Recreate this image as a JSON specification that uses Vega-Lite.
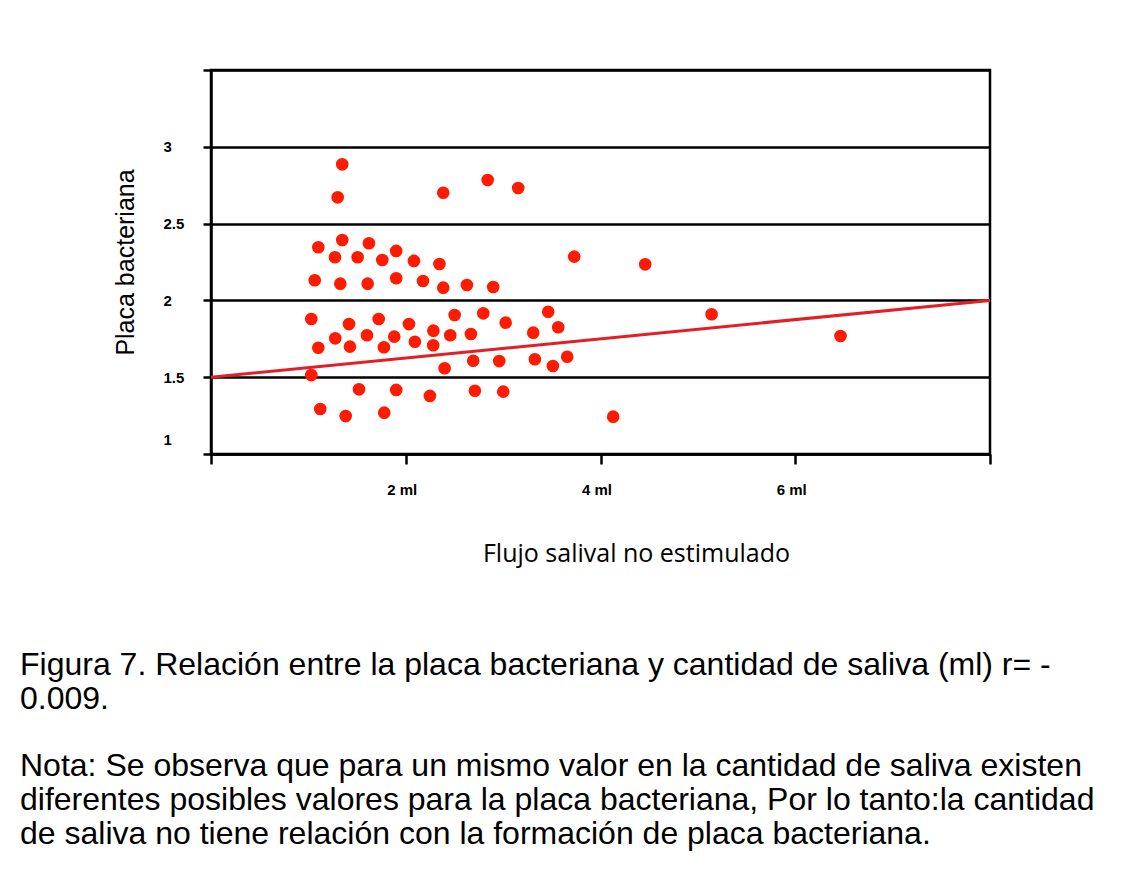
{
  "$schema": "https://vega.github.io/schema/vega-lite/v6.json",
  "width": 779,
  "height": 384,
  "autosize": {"type": "none"},
  "padding": {"left": 211, "top": 70, "right": 149, "bottom": 428},
  "background": "white",
  "config": {
    "view": {"stroke": "black", "strokeWidth": 2.5},
    "axis": {"domainColor": "black", "domainWidth": 2.5, "tickColor": "black", "tickWidth": 2.5, "labelColor": "black", "titleColor": "black"}
  },
  "title": {
    "text": ["Figura 7. Relación entre la placa bacteriana y cantidad de saliva (ml) r= -", "0.009."],
    "subtitle": [
      "Nota: Se observa que para un mismo valor en la cantidad de saliva existen",
      "diferentes posibles valores para la placa bacteriana, Por lo tanto:la cantidad",
      "de saliva no tiene relación con la formación de placa bacteriana."
    ],
    "orient": "bottom",
    "anchor": "start",
    "frame": "group",
    "dx": -191,
    "offset": 84,
    "font": "Liberation Sans",
    "fontSize": 32,
    "fontWeight": "normal",
    "color": "black",
    "lineHeight": 34,
    "subtitleFont": "Liberation Sans",
    "subtitleFontSize": 32,
    "subtitleColor": "black",
    "subtitleLineHeight": 34,
    "subtitlePadding": 35
  },
  "datasets": {
    "puntos": [
      {"flujo": 1.348, "placa": 2.886}, {"flujo": 1.301, "placa": 2.671}, {"flujo": 2.385, "placa": 2.701},
      {"flujo": 2.841, "placa": 2.784}, {"flujo": 3.155, "placa": 2.732}, {"flujo": 1.102, "placa": 2.346},
      {"flujo": 1.348, "placa": 2.393}, {"flujo": 1.273, "placa": 2.281}, {"flujo": 1.506, "placa": 2.281},
      {"flujo": 1.622, "placa": 2.372}, {"flujo": 1.759, "placa": 2.263}, {"flujo": 1.902, "placa": 2.322},
      {"flujo": 2.084, "placa": 2.257}, {"flujo": 2.346, "placa": 2.237}, {"flujo": 1.065, "placa": 2.131},
      {"flujo": 1.328, "placa": 2.109}, {"flujo": 1.609, "placa": 2.109}, {"flujo": 1.902, "placa": 2.144},
      {"flujo": 2.177, "placa": 2.126}, {"flujo": 2.385, "placa": 2.083}, {"flujo": 2.628, "placa": 2.100},
      {"flujo": 2.898, "placa": 2.087}, {"flujo": 3.730, "placa": 2.285}, {"flujo": 4.459, "placa": 2.235},
      {"flujo": 1.030, "placa": 1.879}, {"flujo": 1.417, "placa": 1.846}, {"flujo": 1.722, "placa": 1.879},
      {"flujo": 2.033, "placa": 1.846}, {"flujo": 2.284, "placa": 1.803}, {"flujo": 2.502, "placa": 1.905},
      {"flujo": 2.796, "placa": 1.916}, {"flujo": 3.026, "placa": 1.855}, {"flujo": 3.463, "placa": 1.926},
      {"flujo": 3.566, "placa": 1.825}, {"flujo": 3.309, "placa": 1.790}, {"flujo": 1.276, "placa": 1.753},
      {"flujo": 1.602, "placa": 1.773}, {"flujo": 1.882, "placa": 1.764}, {"flujo": 2.094, "placa": 1.731},
      {"flujo": 2.457, "placa": 1.773}, {"flujo": 2.669, "placa": 1.781}, {"flujo": 1.102, "placa": 1.692},
      {"flujo": 1.427, "placa": 1.699}, {"flujo": 1.776, "placa": 1.695}, {"flujo": 2.282, "placa": 1.708},
      {"flujo": 2.693, "placa": 1.607}, {"flujo": 2.960, "placa": 1.605}, {"flujo": 3.326, "placa": 1.617},
      {"flujo": 3.511, "placa": 1.573}, {"flujo": 3.658, "placa": 1.633}, {"flujo": 1.030, "placa": 1.514},
      {"flujo": 2.399, "placa": 1.558}, {"flujo": 1.520, "placa": 1.421}, {"flujo": 1.902, "placa": 1.417},
      {"flujo": 2.248, "placa": 1.378}, {"flujo": 2.710, "placa": 1.412}, {"flujo": 3.001, "placa": 1.406},
      {"flujo": 1.122, "placa": 1.293}, {"flujo": 1.383, "placa": 1.247}, {"flujo": 1.779, "placa": 1.269},
      {"flujo": 4.130, "placa": 1.243}, {"flujo": 5.141, "placa": 1.910}, {"flujo": 6.465, "placa": 1.768}
    ],
    "tendencia": [
      {"flujo": 0, "placa": 1.5},
      {"flujo": 8, "placa": 2.0}
    ]
  },
  "encoding": {
    "x": {
      "field": "flujo",
      "type": "quantitative",
      "scale": {"domain": [0, 8], "nice": false, "zero": false},
      "axis": {
        "title": "Flujo  salival no estimulado",
        "titleFont": "Open Sans",
        "titleFontSize": 25,
        "titleFontWeight": "normal",
        "titleX": 425,
        "titleY": 99,
        "titleBaseline": "middle",
        "titleAnchor": "middle",
        "titleAlign": "center",
        "values": [0, 2, 4, 6, 8],
        "labelExpr": "datum.value == 0 || datum.value == 8 ? '' : datum.value + ' ml'",
        "labelFont": "Liberation Sans",
        "labelFontSize": 15,
        "labelFontWeight": "bold",
        "labelPadding": 18,
        "labelOffset": -4,
        "tickSize": 10,
        "grid": false
      }
    },
    "y": {
      "field": "placa",
      "type": "quantitative",
      "scale": {"domain": [1, 3.5], "nice": false, "zero": false},
      "axis": {
        "title": "Placa bacteriana",
        "titleFont": "Liberation Sans",
        "titleFontSize": 25,
        "titleFontWeight": "normal",
        "titleX": -86,
        "titleY": 192,
        "titleAngle": -90,
        "titleBaseline": "middle",
        "titleAlign": "center",
        "values": [1, 1.5, 2, 2.5, 3, 3.5],
        "labelExpr": "datum.value == 3.5 ? '' : toString(datum.value)",
        "labelFont": "Liberation Sans",
        "labelFontSize": 15,
        "labelFontWeight": "bold",
        "labelAlign": "left",
        "labelPadding": 40,
        "labelOffset": {"condition": {"test": "datum.value == 1", "value": -15}, "value": 0},
        "tickSize": 8,
        "grid": true,
        "gridColor": "black",
        "gridWidth": 2.5,
        "gridOpacity": 1
      }
    }
  },
  "layer": [
    {
      "data": {"name": "tendencia"},
      "mark": {"type": "line", "color": "#e41e26", "strokeWidth": 3},
      "encoding": {}
    },
    {
      "data": {"name": "puntos"},
      "mark": {"type": "circle", "color": "#ff1a00", "size": 160, "opacity": 1},
      "encoding": {}
    }
  ]
}
